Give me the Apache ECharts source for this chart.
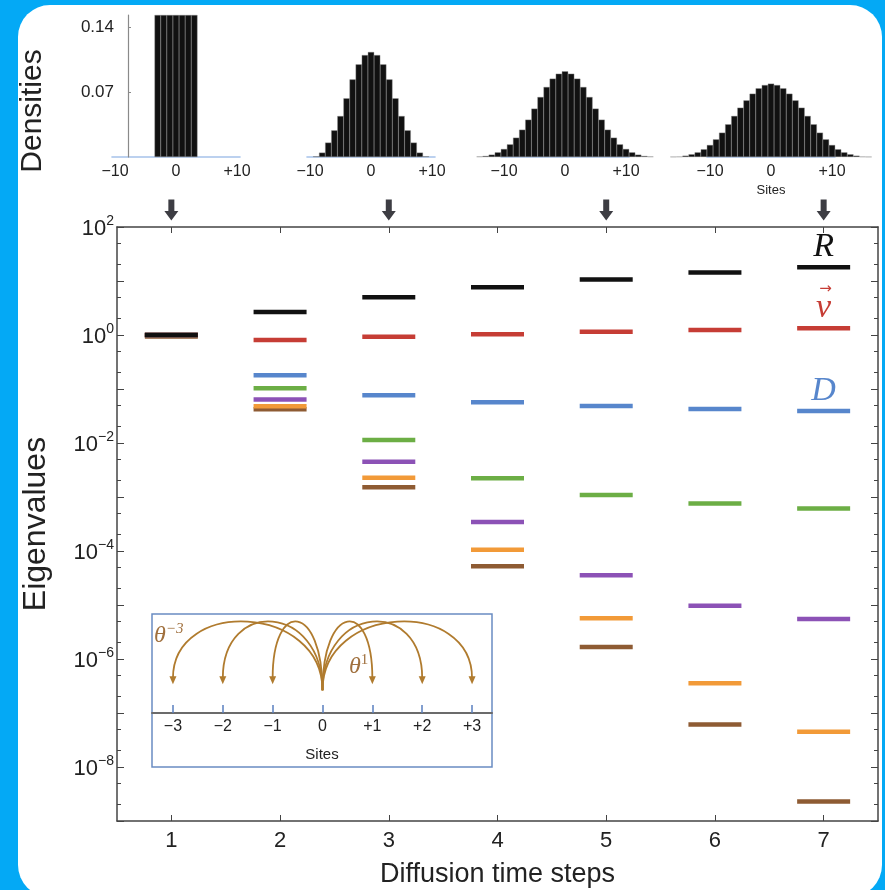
<!DOCTYPE html>
<html>
<head>
<meta charset="utf-8">
<script src="https://cdn.jsdelivr.net/npm/echarts@6.0.0/dist/echarts.min.js"></script>
<style>
html, body { margin: 0; padding: 0; background: #04a9f5; overflow: hidden; }
#card { position: absolute; left: 18px; top: 5px; width: 864px; height: 892px; background: #fff; border-radius: 32px; }
#main { position: absolute; left: 0; top: 0; width: 885px; height: 890px; }
</style>
</head>
<body>
<div id="card"></div>
<div id="main"></div>
<script>
const Chart = echarts.init(document.getElementById('main'), null, { renderer: 'canvas' });

// diffusion time steps (main x axis)
const steps = [1, 2, 3, 4, 5, 6, 7];
// eigenvalues per step, one list per colour
const eigBlack  = [1, 2.67, 5.0, 7.64, 10.7, 14.3, 17.9];
const eigRed    = [1, 0.81, 0.93, 1.03, 1.15, 1.24, 1.33];
const eigBlue   = [1, 0.18, 0.077, 0.0567, 0.0484, 0.0426, 0.039];
const eigGreen  = [1, 0.103, 0.0114, 0.00222, 0.00109, 0.00076, 0.00061];
const eigPurple = [1, 0.064, 0.0045, 3.44e-4, 3.55e-5, 9.7e-6, 5.5e-6];
const eigOrange = [1, 0.048, 0.00228, 1.06e-4, 5.7e-6, 3.55e-7, 4.5e-8];
const eigBrown  = [0.94, 0.042, 0.00151, 5.2e-5, 1.67e-6, 6.1e-8, 2.3e-9];
const yLabelExp = [-8, -6, -4, -2, 0, 2];
const arrowSteps = [1, 3, 5, 7];

// densities of the small histograms (steps 1, 3, 5, 7), first site of each
const histStart = [-3, -9, -14, -16];
const hist1Dens = [0.153, 0.153, 0.153, 0.153, 0.153, 0.153, 0.153];
const hist3Dens = [0.0007, 0.0047, 0.0155, 0.0287, 0.0441, 0.0632, 0.0836, 0.0998, 0.1098, 0.1131,
                   0.1098, 0.0998, 0.0836, 0.0632, 0.0441, 0.0287, 0.0155, 0.0047, 0.0007];
const hist5Dens = [0.0005, 0.0011, 0.0025, 0.0050, 0.0086, 0.0136, 0.0208, 0.0294, 0.0402, 0.0521,
                   0.0646, 0.0754, 0.0844, 0.0897, 0.0923, 0.0897, 0.0844, 0.0754, 0.0646, 0.0521,
                   0.0402, 0.0294, 0.0208, 0.0136, 0.0086, 0.0050, 0.0025, 0.0011, 0.0005];
const hist7Dens = [0.0002, 0.0004, 0.0014, 0.0029, 0.0050, 0.0083, 0.0129, 0.0190, 0.0262, 0.0352,
                   0.0442, 0.0531, 0.0610, 0.0682, 0.0740, 0.0775, 0.0790, 0.0775, 0.0740, 0.0682,
                   0.0610, 0.0531, 0.0442, 0.0352, 0.0262, 0.0190, 0.0129, 0.0083, 0.0050, 0.0029,
                   0.0014, 0.0004, 0.0002];
const histTicks = [-10, 0, 10];
const histDensTicks = [0.07, 0.14];

// inset: hopping scheme
const insetSites = [-3, -2, -1, 0, 1, 2, 3];
const insetTargets = [-3, -2, -1, 1, 2, 3];

const FONT = 'Liberation Sans';
const AXIS_C = '#444';
const ARC_C = '#b07b2e';

const eigSeries = [
    { name: 'brown',  vals: eigBrown,  color: '#8e5b33' },
    { name: 'orange', vals: eigOrange, color: '#f29a38' },
    { name: 'purple', vals: eigPurple, color: '#8c52b6' },
    { name: 'green',  vals: eigGreen,  color: '#6cae45' },
    { name: 'blue',   vals: eigBlue,   color: '#5786cc', tag: '{v|D}' },
    { name: 'red',    vals: eigRed,    color: '#c63d35', tag: '{a|\u2192}\n{v|v}' },
    { name: 'black',  vals: eigBlack,  color: '#111111', tag: '{v|R}' }
];

// log ticks: every decade, plus 2x and 5x
const decades = [];
const minors = [];
for (let e = -9; e <= 2; e++) {
    decades.push(e);
    if (e < 2) { minors.push(e + Math.log10(2)); minors.push(e + Math.log10(5)); }
}

function supLabel(v) {
    return '{b|10}{s|' + (v < 0 ? '\u2212' + (-v) : v) + '}';
}
function siteLabel(v) {
    if (v < 0) return '\u2212' + (-v);
    if (v > 0) return '+' + v;
    return '0';
}

const SITE_PX = 6.1;
const histCenters = [176, 371, 565, 771];
const histLists = [hist1Dens, hist3Dens, hist5Dens, hist7Dens];

var grid = [
    { left: 117, right: 7, top: 227, bottom: 69, outerBoundsMode: 'none' },           // 0 main
    { left: 117, right: 7, top: 199, height: 22, outerBoundsMode: 'none' },           // 1 arrows
    { left: 152, width: 340, top: 614, height: 99, outerBoundsMode: 'none' }          // 2 inset axes
];
histCenters.forEach(cx => {                                                             // 3..6 histograms
    grid.push({ left: cx - 10.5 * SITE_PX, width: 21 * SITE_PX, top: 15, height: 142, outerBoundsMode: 'none' });
});
grid.push({ left: 152, width: 340, top: 614, height: 153, outerBoundsMode: 'none', z: 1,   // 7 inset box
            show: true, backgroundColor: '#fff', borderColor: '#6a8cc2', borderWidth: 1.5 });

var xAxis = [
    { // main bottom
        gridIndex: 0, type: 'value', min: 0.5, max: 7.5, position: 'bottom',
        axisLine: { onZero: false, lineStyle: { color: AXIS_C, width: 1.5 } },
        axisTick: { inside: true, length: 6, customValues: steps, lineStyle: { color: AXIS_C } },
        axisLabel: { customValues: steps, fontSize: 22, color: '#222', margin: 9, fontFamily: FONT },
        splitLine: { show: false },
        name: 'Diffusion time steps', nameLocation: 'middle', nameGap: 40,
        nameTextStyle: { fontSize: 27, color: '#222', fontFamily: FONT }
    },
    { // main top frame
        gridIndex: 0, type: 'value', min: 0.5, max: 7.5, position: 'top',
        axisLine: { onZero: false, lineStyle: { color: AXIS_C, width: 1.5 } },
        axisTick: { inside: true, length: 6, customValues: steps, lineStyle: { color: AXIS_C } },
        axisLabel: { show: false }, splitLine: { show: false }
    },
    { gridIndex: 1, type: 'value', min: 0.5, max: 7.5, show: false },
    { // inset sites
        gridIndex: 2, type: 'value', min: -3.42, max: 3.40, position: 'bottom', z: 3,
        axisLine: { onZero: false, lineStyle: { color: '#6b6b6b', width: 2 } },
        axisTick: { inside: true, length: 8, customValues: insetSites, lineStyle: { color: '#5a80c0', width: 1.5 } },
        axisLabel: { customValues: insetSites, formatter: siteLabel, fontSize: 16, color: '#222', margin: 6, fontFamily: FONT },
        splitLine: { show: false },
        name: 'Sites', nameLocation: 'middle', nameGap: 34,
        nameTextStyle: { fontSize: 15, color: '#222', fontFamily: FONT }
    }
];
histCenters.forEach((cx, i) => {
    xAxis.push({
        gridIndex: 3 + i, type: 'value', min: -10.5, max: 10.5,
        axisLine: { onZero: false, lineStyle: { color: '#a6c2ea', width: 1.5 } },
        axisTick: { show: false },
        axisLabel: { customValues: histTicks, formatter: siteLabel, fontSize: 16, color: '#222', margin: 7, fontFamily: FONT },
        splitLine: { show: false },
        name: i === 3 ? 'Sites' : '', nameLocation: 'middle', nameGap: 27,
        nameTextStyle: { fontSize: 13, color: '#222', fontFamily: FONT }
    });
});

var yAxis = [
    { // main left, labelled
        gridIndex: 0, type: 'value', min: -9, max: 2, position: 'left',
        axisLine: { onZero: false, lineStyle: { color: AXIS_C, width: 1.5 } },
        axisTick: { inside: true, length: 7, customValues: decades, lineStyle: { color: AXIS_C } },
        axisLabel: {
            customValues: yLabelExp, formatter: supLabel, margin: 3, color: '#222',
            rich: {
                b: { fontSize: 22, fontFamily: FONT, color: '#222', verticalAlign: 'bottom' },
                s: { fontSize: 14, fontFamily: FONT, color: '#222', verticalAlign: 'bottom', padding: [0, 0, 11, 0] }
            }
        },
        splitLine: { show: false },
        name: 'Eigenvalues', nameLocation: 'middle', nameGap: 65,
        nameTextStyle: { fontSize: 32, color: '#222', fontFamily: FONT }
    },
    { // main left minor ticks
        gridIndex: 0, type: 'value', min: -9, max: 2, position: 'left',
        axisLine: { show: false, onZero: false },
        axisTick: { inside: true, length: 4, customValues: minors, lineStyle: { color: AXIS_C } },
        axisLabel: { show: false }, splitLine: { show: false }
    },
    { // main right frame
        gridIndex: 0, type: 'value', min: -9, max: 2, position: 'right',
        axisLine: { onZero: false, lineStyle: { color: AXIS_C, width: 1.5 } },
        axisTick: { inside: true, length: 7, customValues: decades, lineStyle: { color: AXIS_C } },
        axisLabel: { show: false }, splitLine: { show: false }
    },
    {
        gridIndex: 0, type: 'value', min: -9, max: 2, position: 'right',
        axisLine: { show: false, onZero: false },
        axisTick: { inside: true, length: 4, customValues: minors, lineStyle: { color: AXIS_C } },
        axisLabel: { show: false }, splitLine: { show: false }
    },
    { gridIndex: 1, type: 'value', min: 0, max: 1, show: false },
    { gridIndex: 2, type: 'value', min: 0, max: 1, show: false }
];
histCenters.forEach((cx, i) => {
    const first = i === 0;
    yAxis.push({
        gridIndex: 3 + i, type: 'value', min: 0, max: 0.153, show: first, z: 3,
        offset: first ? -(128 - (cx - 10.5 * SITE_PX)) : 0,
        axisLine: { show: first, onZero: false, lineStyle: { color: '#8a8a8a', width: 1.2 } },
        axisTick: { show: first, inside: true, length: 3, customValues: histDensTicks, lineStyle: { color: '#8a8a8a' } },
        axisLabel: { show: first, customValues: histDensTicks, formatter: v => v.toFixed(2), fontSize: 17, color: '#222', margin: 14, fontFamily: FONT },
        splitLine: { show: false }
    });
});

var series = [];
eigSeries.forEach(es => {
    series.push({
        type: 'scatter', name: es.name, xAxisIndex: 0, yAxisIndex: 0,
        symbol: 'rect', symbolSize: [53, 4.5], silent: true,
        itemStyle: { color: es.color, opacity: 1 },
        data: steps.map((s, i) => {
            const item = { value: [s, Math.log10(es.vals[i])] };
            if (es.tag && i === steps.length - 1) {
                item.label = {
                    show: true, position: 'top', distance: 3, formatter: es.tag, color: es.color,
                    rich: {
                        v: { fontFamily: 'Liberation Serif', fontStyle: 'italic', fontSize: 34, lineHeight: 30, color: es.color },
                        a: { fontFamily: 'DejaVu Sans', fontSize: 15, lineHeight: 8, color: es.color, padding: [0, 0, 0, 4] }
                    }
                };
            }
            return item;
        })
    });
});

series.push({
    type: 'scatter', xAxisIndex: 2, yAxisIndex: 4, silent: true,
    symbol: 'path://M4,0H10V11H14L7,20L0,11H4Z', symbolSize: [14, 21],
    itemStyle: { color: '#0d0d14' },
    data: arrowSteps.map(s => [s, 0.5])
});

series.push({
    type: 'custom', xAxisIndex: 3, yAxisIndex: 5, silent: true, z: 5, clip: false,
    data: insetTargets.map(t => [t]),
    renderItem: function (params, api) {
        const t = api.value(0);
        const p0 = api.coord([0, 0.23]);
        const p1 = api.coord([t, 0.30]);
        const k = 86;
        return {
            type: 'group',
            children: [{
                type: 'bezierCurve',
                shape: { x1: p0[0], y1: p0[1], x2: p1[0], y2: p1[1] - 5,
                         cpx1: p0[0], cpy1: p0[1] - k, cpx2: p1[0], cpy2: p1[1] - k },
                style: { stroke: ARC_C, lineWidth: 1.8, fill: null }
            }, {
                type: 'polygon',
                shape: { points: [[p1[0] - 3.5, p1[1] - 7], [p1[0] + 3.5, p1[1] - 7], [p1[0], p1[1] + 1]] },
                style: { fill: ARC_C }
            }]
        };
    }
});

histLists.forEach((dens, i) => {
    series.push({
        type: 'bar', xAxisIndex: 4 + i, yAxisIndex: 6 + i, silent: true, clip: false,
        barWidth: SITE_PX + 0.2,
        itemStyle: { color: '#111', borderColor: '#8a8a8a', borderWidth: 0.4 },
        data: dens.map((d, j) => [histStart[i] + j, d])
    });
});

var option = {
    animation: false,
    textStyle: { fontFamily: FONT },
    grid: grid,
    xAxis: xAxis,
    yAxis: yAxis,
    series: series,
    graphic: [
        {
            type: 'text', x: 33, y: 111, rotation: Math.PI / 2,
            style: { text: 'Densities', font: '30px "Liberation Sans"', fill: '#222', align: 'center', verticalAlign: 'middle' }
        },
        {
            type: 'text', left: 154, top: 622, z: 10,
            style: {
                text: '{t|\u03B8}{s|\u22123}', fill: ARC_C,
                rich: {
                    t: { fontSize: 24, fontFamily: 'Liberation Serif', fontStyle: 'italic', fill: '#a0703e', verticalAlign: 'bottom' },
                    s: { fontSize: 15, fontFamily: 'Liberation Serif', fontStyle: 'italic', fill: '#a0703e', verticalAlign: 'bottom', padding: [0, 0, 11, 0] }
                }
            }
        },
        {
            type: 'text', left: 349, top: 653, z: 10,
            style: {
                text: '{t|\u03B8}{s|1}', fill: ARC_C,
                rich: {
                    t: { fontSize: 24, fontFamily: 'Liberation Serif', fontStyle: 'italic', fill: '#a0703e', verticalAlign: 'bottom' },
                    s: { fontSize: 15, fontFamily: 'Liberation Serif', fill: '#a0703e', verticalAlign: 'bottom', padding: [0, 0, 11, 0] }
                }
            }
        }
    ]
};
Chart.setOption(option, true);
</script>
</body>
</html>
